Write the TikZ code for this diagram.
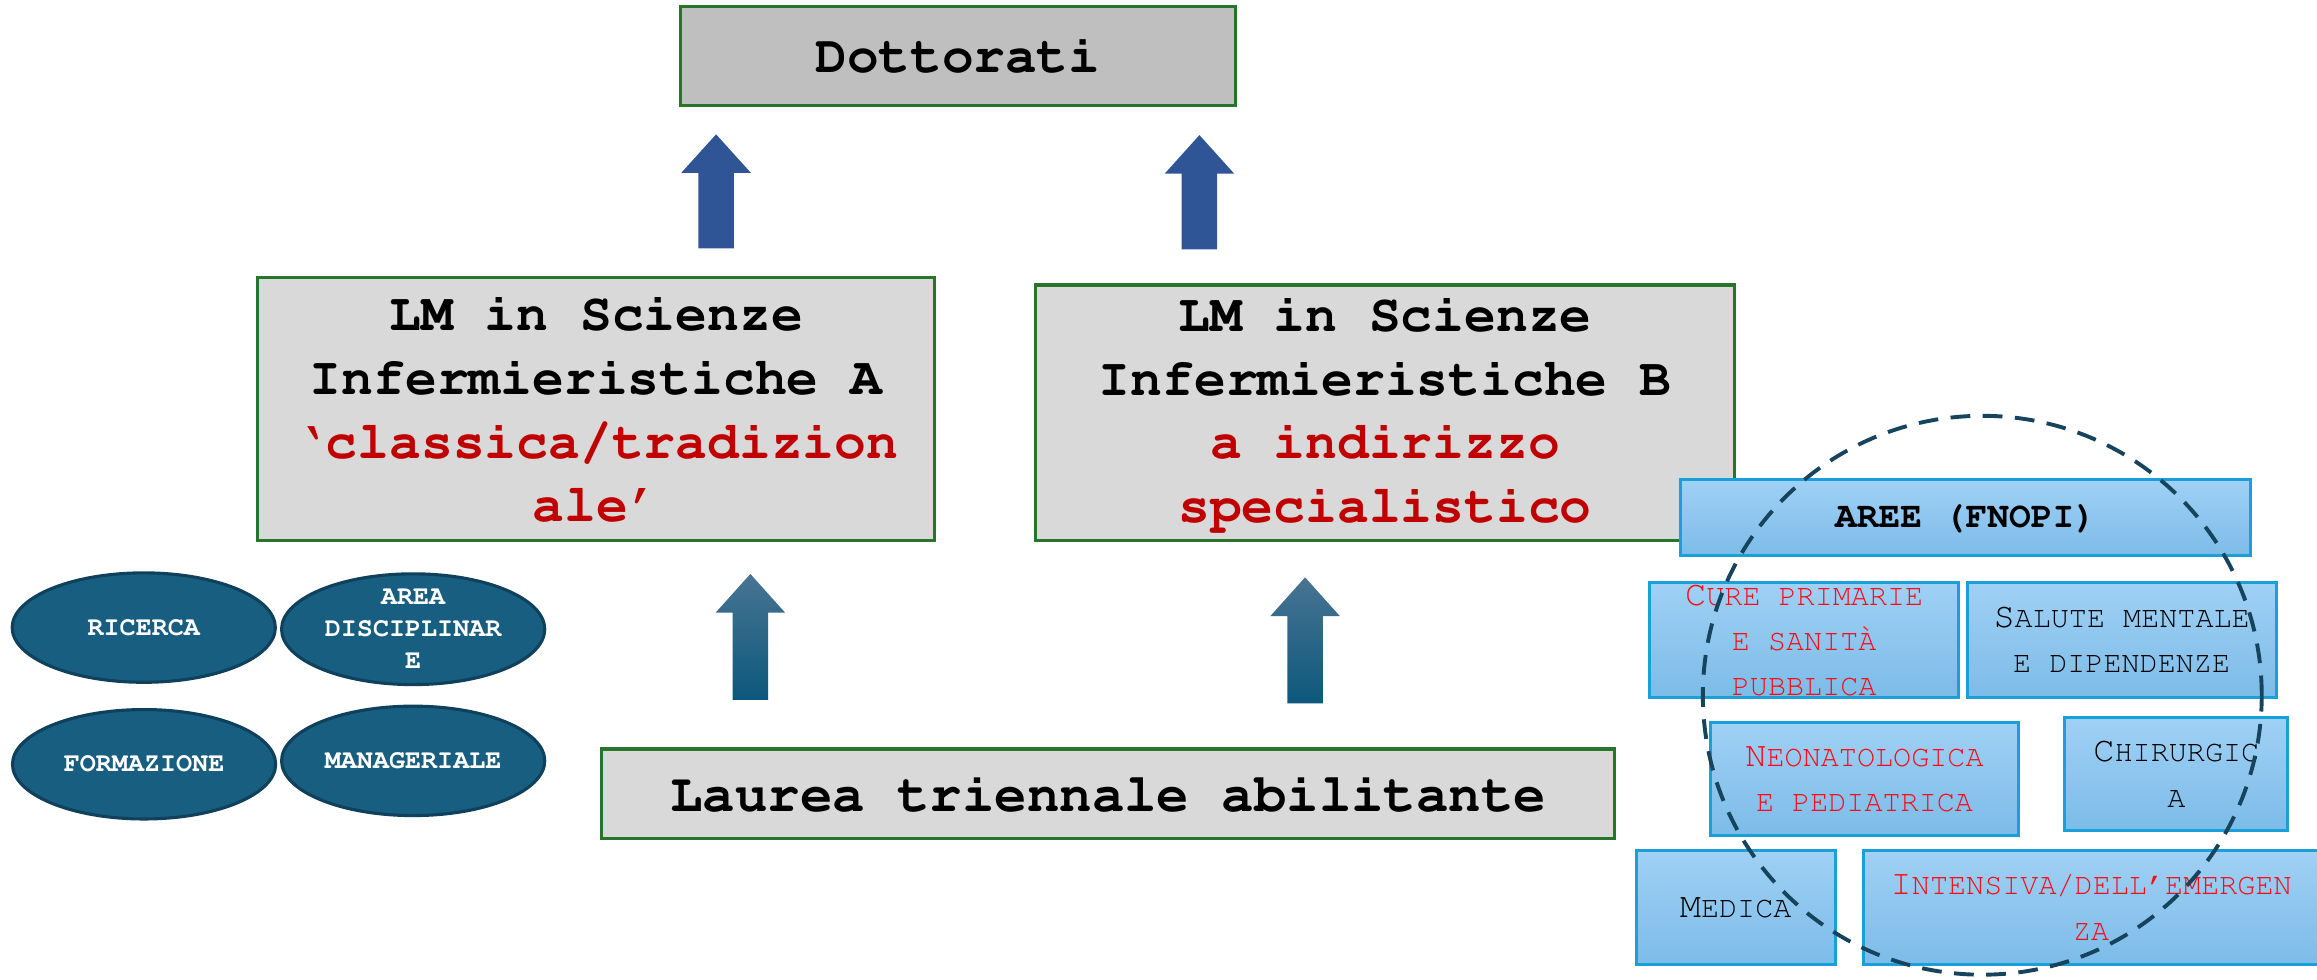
\documentclass[tikz,border=0pt]{standalone}
\usepackage[T1]{fontenc}
\renewcommand{\ttdefault}{pcr}
\usetikzlibrary{shapes.geometric}

\definecolor{boxgreen}{RGB}{38,117,42}
\definecolor{boxgray}{RGB}{217,217,217}
\definecolor{topgray}{RGB}{191,191,191}
\definecolor{lmred}{RGB}{192,0,0}
\definecolor{areared}{RGB}{250,10,20}
\definecolor{upblue}{RGB}{47,85,151}
\definecolor{tealtop}{RGB}{72,116,146}
\definecolor{tealmid}{RGB}{22,98,136}
\definecolor{tealbot}{RGB}{12,88,124}
\definecolor{ovalfill}{RGB}{24,94,128}
\definecolor{ovalline}{RGB}{15,64,92}
\definecolor{areatop}{RGB}{160,208,245}
\definecolor{areabot}{RGB}{124,188,232}
\definecolor{arealine}{RGB}{26,160,216}
\definecolor{ringblue}{RGB}{22,68,92}

% block arrow: style, centre x, tip y, head base y, bottom y
\newcommand{\blockarrow}[5]{%
\path[#1] (#2,#3) -- ({#2+23.5},#4) -- ({#2+12},#4) -- ({#2+12},#5)
  -- ({#2-12},#5) -- ({#2-12},#4) -- ({#2-23.5},#4) -- cycle;}
\newcommand{\ini}[1]{{\fontsize{6.8}{8.7}\selectfont #1}}

\begin{document}
\begin{tikzpicture}[x=0.01cm,y=-0.01cm]
\tikzstyle{every node}+=[inner sep=0pt]
\tikzstyle{greybox}=[draw=boxgreen, line width=0.6pt, fill=boxgray, align=center,
  font={\ttfamily\bfseries\fontsize{10.2}{12.26}\selectfont}]
\tikzstyle{oval}=[ellipse, draw=ovalline, line width=0.6pt, fill=ovalfill, text=white,
  minimum width=1.78cm, minimum height=0.74cm, align=center,
  font={\ttfamily\bfseries\fontsize{5.15}{6.1}\selectfont}]
\tikzstyle{areabox}=[draw=arealine, line width=0.6pt, top color=areatop, bottom color=areabot,
  align=center, font={\ttfamily\fontsize{5.8}{8.7}\selectfont}]
\useasboundingbox (0,0) rectangle (1568,663);

% arrows
\blockarrow{fill=upblue}{484.6}{90.9}{116.9}{168.1}
\blockarrow{fill=upblue}{811.7}{91.4}{117.5}{168.7}
\blockarrow{top color=tealtop, middle color=tealmid, bottom color=tealbot}{507.8}{388.4}{414.6}{473.7}
\blockarrow{top color=tealtop, middle color=tealmid, bottom color=tealbot}{883.2}{390.7}{416.9}{476}

% main boxes
\node[greybox, fill=topgray, minimum width=3.756cm, minimum height=0.666cm,
  font={\ttfamily\bfseries\fontsize{10.15}{12}\selectfont}] (dott) at (648.2,37.8) {Dottorati};
\node[greybox, minimum width=4.577cm, minimum height=1.782cm] (lmA) at (403.45,276.8)
  {LM in Scienze\\Infermieristiche A\\\textcolor{lmred}{`classica/tradizion}\\\textcolor{lmred}{ale'}};
\node[greybox, minimum width=4.724cm, minimum height=1.73cm] (lmB) at (937.3,279.4)
  {LM in Scienze\\Infermieristiche B\\\textcolor{lmred}{a indirizzo}\\\textcolor{lmred}{specialistico}};
\node[greybox, minimum width=6.852cm, minimum height=0.604cm,
  font={\ttfamily\bfseries\fontsize{10.4}{12.5}\selectfont}] (laurea) at (750,537.1) {Laurea triennale abilitante};

% ovals
\node[oval] (ricerca) at (97.3,424.7) {RICERCA};
\node[oval] (disc) at (279.6,425.8) {AREA\\DISCIPLINAR\\E};
\node[oval] (form) at (97.5,517.2) {FORMAZIONE};
\node[oval] (manag) at (279.6,514.9) {MANAGERIALE};

% aree
\node[areabox, minimum width=3.854cm, minimum height=0.513cm,
  font={\ttfamily\bfseries\fontsize{6.97}{8.5}\selectfont}] (aree) at (1330.2,350.4) {AREE (FNOPI)};
\node[areabox, text=areared, minimum width=2.091cm, minimum height=0.772cm] (cure) at (1221,433.1)
  {\ini{C}URE PRIMARIE\\E SANIT\`A\\PUBBLICA};
\node[areabox, minimum width=2.09cm, minimum height=0.772cm] (salute) at (1435.8,433.1)
  {\ini{S}ALUTE MENTALE\\E DIPENDENZE};
\node[areabox, text=areared, minimum width=2.087cm, minimum height=0.767cm] (neo) at (1261.8,527.2)
  {\ini{N}EONATOLOGICA\\E PEDIATRICA};
\node[areabox, minimum width=1.507cm, minimum height=0.767cm] (chir) at (1472.8,523.8)
  {\ini{C}HIRURGIC\\A};
\node[areabox, minimum width=1.345cm, minimum height=0.773cm] (medica) at (1174.6,614.3)
  {\ini{M}EDICA};
\node[areabox, text=areared, minimum width=3.076cm, minimum height=0.773cm] (intens) at (1415.2,614.3)
  {\ini{I}NTENSIVA/DELL'EMERGEN\\ZA};

% ring
\node[circle, draw=ringblue, line width=0.75pt, dash pattern=on 3.8pt off 2.4pt,
  minimum size=3.78cm] (ring) at (1341.5,470.5) {};
\end{tikzpicture}
\end{document}
